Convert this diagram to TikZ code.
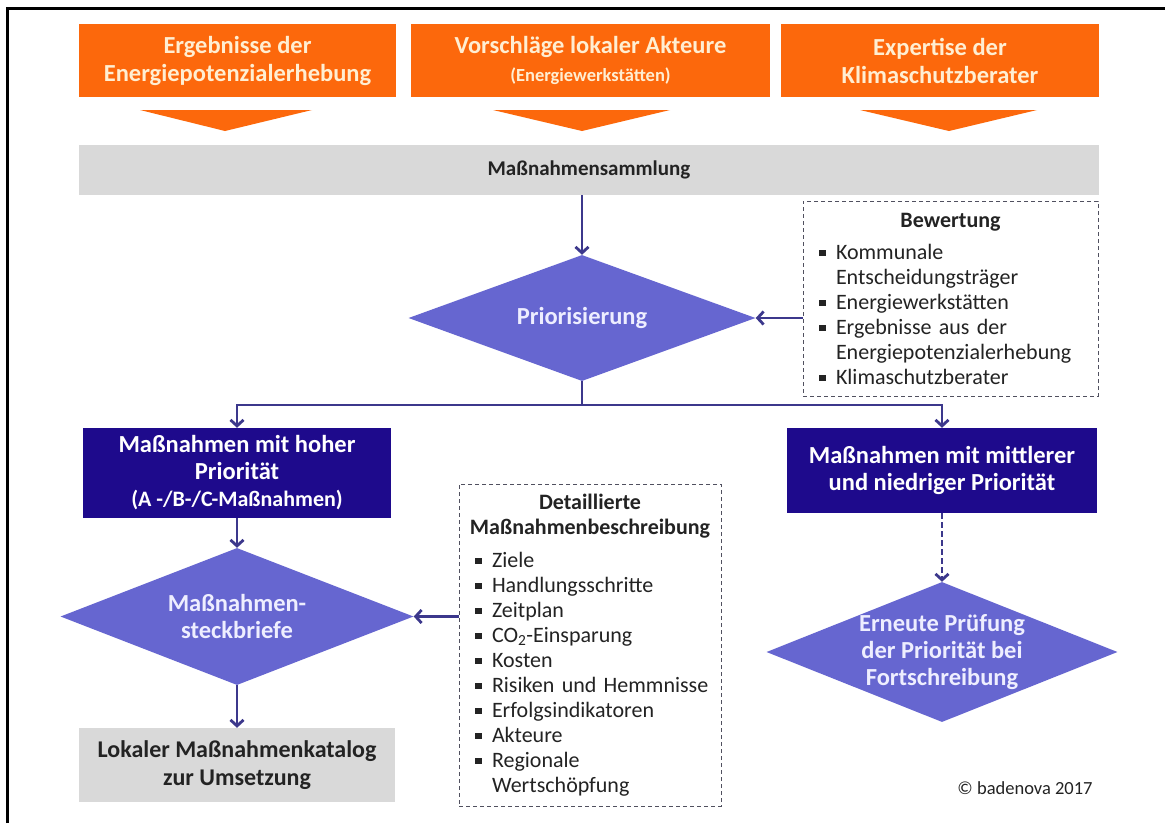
\documentclass[tikz,border=0pt]{standalone}
\usepackage{fontspec}
\setmainfont{Carlito}
\usetikzlibrary{arrows.meta,shapes.geometric}
\definecolor{orangec}{RGB}{252,104,12}
\definecolor{otext}{RGB}{255,238,210}
\definecolor{grayc}{RGB}{217,217,217}
\definecolor{navyc}{RGB}{30,10,140}
\definecolor{diac}{RGB}{102,102,208}
\definecolor{arrc}{RGB}{60,56,140}
\definecolor{dashc}{RGB}{80,80,95}
\definecolor{txtc}{RGB}{35,35,35}
\definecolor{diatext}{RGB}{238,238,255}
\newcommand\fs[2]{\fontsize{#1}{#2}\selectfont}
\newcommand\sqb{\makebox[17pt][l]{\rule[3pt]{6.5pt}{6.5pt}}}
\newcommand\ind{\hspace*{17pt}}
\newcommand\li[1]{\mbox{\sqb #1}}
\newcommand\lj[1]{\mbox{\ind #1}}
\begin{document}
\begin{tikzpicture}[x=1pt,y=-1pt,
  obox/.style={fill=orangec,text=otext,font=\bfseries\fs{24.5}{28},align=center,inner sep=0,minimum height=73},
  gbox/.style={fill=grayc,text=txtc,font=\bfseries\fs{24}{28},align=center,inner sep=0},
  bbox/.style={fill=navyc,text=white,font=\bfseries\fs{24.5}{27},align=center,inner sep=0},
  dia/.style={diamond,fill=diac,inner sep=0},
  diatxt/.style={font=\bfseries\fs{24.5}{27},text=diatext,align=center},
  dbox/.style={draw=dashc,line width=1pt,dash pattern=on 4pt off 3pt,text=txtc,font=\fs{22}{25},align=left},
  arr/.style={draw=arrc,line width=2.8pt,-{Straight Barb[length=6pt,width=13pt]}},
  darr/.style={arr,dash pattern=on 6pt off 3pt},
  trif/.style={fill=orangec}
]
\useasboundingbox (0,0) rectangle (1165,823);
\fill[white] (0,0) rectangle (1165,823);
% frame
\draw[line width=3pt,black] (7,823) -- (7,8) -- (1165,8);

% orange sources
\node[obox,minimum width=317] (o1) at (237.5,60.5) {Ergebnisse der\\Energiepotenzialerhebung};
\node[obox,minimum width=359] (o2) at (590.5,60.5) {Vorschläge lokaler Akteure\\{\fs{18.5}{22}(Energiewerkstätten)}};
\node[obox,minimum width=318] (o3) at (940,60.5) {Expertise der\\Klimaschutzberater};
\fill[trif] (140,110) -- (312,110) -- (225,131) -- cycle;
\fill[trif] (493,110) -- (670,110) -- (582,131) -- cycle;
\fill[trif] (860,110) -- (1037,110) -- (949,131) -- cycle;

% collection
\node[gbox,font=\bfseries\fs{21}{25},minimum width=1020,minimum height=50] (sam) at (589,170) {Maßnahmensammlung};

% prioritisation
\node[dia,minimum width=347,minimum height=126,label={[diatxt]center:Priorisierung}] (prio) at (582,318) {};
\node[dbox,minimum width=295,minimum height=195,text width=263,inner xsep=16,inner ysep=0] (bew) at (950.5,298.5)
 {\makebox[\linewidth][c]{\bfseries Bewertung}\\[7pt]
  \li{Kommunale}\\
  \lj{Entscheidungsträger}\\
  \li{Energiewerkstätten}\\
  \li{Ergebnisse aus der}\\
  \lj{Energiepotenzialerhebung}\\
  \li{Klimaschutzberater}};

% priority boxes
\node[bbox,minimum width=308,minimum height=90] (hoch) at (237,473)
 {Maßnahmen mit hoher\\Priorität\\{\fs{22}{25}(A -/B-/C-Maßnahmen)}};
\node[bbox,minimum width=310,minimum height=85] (mitt) at (942,470.5)
 {Maßnahmen mit mittlerer\\und niedriger Priorität};

% left branch
\node[dia,minimum width=353,minimum height=137,label={[diatxt]center:{Maßnahmen-\\steckbriefe}}] (steck) at (237,616.5) {};
\node[gbox,minimum width=316,minimum height=74] (lok) at (237,765) {Lokaler Maßnahmenkatalog\\zur Umsetzung};
\node[dbox,minimum width=262,minimum height=322,text width=230,inner xsep=16,inner ysep=0] (det) at (590,645)
 {\makebox[\linewidth][c]{\bfseries Detaillierte}\\
  \makebox[\linewidth][c]{\bfseries Maßnahmenbeschreibung}\\[8pt]
  \li{Ziele}\\
  \li{Handlungsschritte}\\
  \li{Zeitplan}\\
  \li{CO\textsubscript{2}-Einsparung}\\
  \li{Kosten}\\
  \li{Risiken und Hemmnisse}\\
  \li{Erfolgsindikatoren}\\
  \li{Akteure}\\
  \li{Regionale}\\
  \lj{Wertschöpfung}};

% right branch
\node[dia,minimum width=351,minimum height=140,label={[diatxt]center:{Erneute Prüfung\\der Priorität bei\\Fortschreibung}}] (ern) at (942,652) {};

\node[text=txtc,font=\fs{18.5}{22},inner sep=0] (copy) at (1025,788) {© badenova 2017};

% connectors
\draw[arr] (sam.south -| prio.north) -- (prio.north);
\draw[arr] (bew.west |- prio.east) -- (prio.east);
\coordinate (split) at (582,405);
\draw[arr] (prio.south) -- (split) -| (hoch.north);
\draw[arr] (split) -| (mitt.north);
\draw[arr] (hoch.south) -- (steck.north);
\draw[arr] (steck.south) -- (lok.north);
\draw[arr] (det.west |- steck.east) -- (steck.east);
\draw[darr] (mitt.south) -- (ern.north);
\end{tikzpicture}
\end{document}
